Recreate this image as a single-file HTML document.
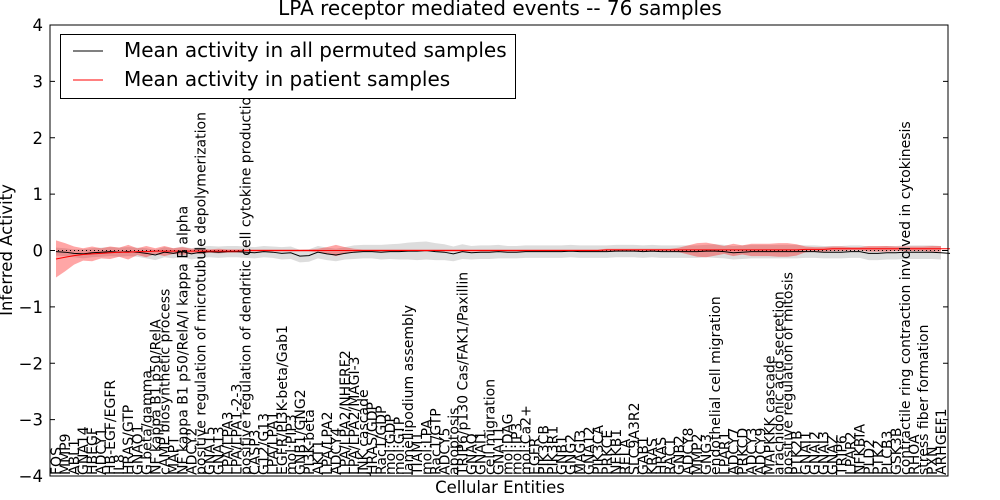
<!DOCTYPE html>
<html><head><meta charset="utf-8"><style>
body{margin:0;background:#fff;}
svg{display:block;font-family:"DejaVu Sans","Liberation Sans",sans-serif;}
</style></head><body>
<svg id="chart" width="1000" height="500">
<text x="500" y="15" text-anchor="middle" font-size="20">LPA receptor mediated events -- 76 samples</text>
<text transform="translate(12,250) rotate(-90)" text-anchor="middle" font-size="16.5">Inferred Activity</text>
<text x="500" y="493" text-anchor="middle" font-size="16.5">Cellular Entities</text>
<g id="bands"></g><g id="lines"></g><g id="xlabels"></g><g id="yaxis"></g>
<rect x="50" y="25" width="898" height="451" fill="none" stroke="#000" stroke-width="1"/>
<g>
<rect x="60.5" y="34.5" width="455" height="64" fill="#fff" stroke="#000"/>
<line x1="73" y1="51" x2="103" y2="51" stroke="#000"/>
<text x="124" y="57" font-size="20">Mean activity in all permuted samples</text>
<line x1="73" y1="80" x2="103" y2="80" stroke="#f00"/>
<text x="124" y="86" font-size="20">Mean activity in patient samples</text>
</g>
</svg>
<script>
const categories=["FOS","MMP9","ABL1","GNA14","HBEGF","ADCY1","HB-EGF/EGFR","IL8","HRAS/GTP","GNAO1","G beta/gamma","NF kappa B1 p50/RelA","cAMP biosynthetic process","MAPT","NF kappa B1 p50/RelA/I kappa B alpha","ADCY2","positive regulation of microtubule depolymerization","GNA15","GNA13","LPA/LPA3","LPA/LPA1-2-3","positive regulation of dendritic cell cytokine production","CASP3","G12/G13","LPA/LPA1","EGFR/PI3K-beta/Gab1","mol:PIP3","GNB1/GNG2","PI3K-beta","AKT1","LPA/LPA2","ADCY4","LPA/LPA2/NHERF2","LPA/LPA2/MAGI-3","JNK cascade","HRAS/GDP","Rac1/GDP","mol:GDP","mol:GTP","lamellipodium assembly","TIAM1","mol:LPA","Rac1/GTP","ADCY5","apoptosis","TRIP6/p130 Cas/FAK1/Paxillin","GNAQ","GNAI1","cell migration","GNA11","mol:DAG","mol:IP3","mol:Ca2+","EGFR","PIK3CB","PIK3R1","GNB1","GNG2","MAGI3","GNA12","PIK3CA","PRKCE","NFKB1","RELA","SLC9A3R2","GAB1","KRAS","HRAS","RAC1","GNB2","ADCY8","MMP2","GNG3","endothelial cell migration","LPAR1","ADCY7","PRKCD","ADCY3","ADCY9","MAPKKK cascade","arachidonic acid secretion","positive regulation of mitosis","PTK2B","GNAI1","GNAI2","GNAI3","GNAZ","TRIP6","LPAR2","NFKBIA","PLD2","PTK2","PLCB3","GSK3B","contractile ring contraction involved in cytokinesis","RHOA","stress fiber formation","PXN","ARHGEF1"];
const permutedMean=[-0.02,-0.03,-0.05,-0.06,-0.04,-0.03,-0.02,-0.03,-0.02,-0.03,-0.05,-0.08,-0.03,-0.05,-0.02,-0.06,-0.03,-0.02,-0.03,-0.02,-0.02,-0.03,-0.04,-0.02,-0.03,-0.05,-0.04,-0.10,-0.09,-0.03,-0.06,-0.08,-0.05,-0.03,-0.02,-0.02,-0.03,-0.02,-0.02,-0.01,-0.01,0.0,-0.02,-0.03,-0.06,-0.02,-0.04,-0.03,-0.03,-0.02,-0.03,-0.03,-0.02,-0.02,-0.02,-0.02,-0.02,-0.01,-0.02,-0.02,-0.02,-0.02,-0.01,-0.01,-0.01,-0.02,-0.01,-0.02,-0.02,-0.02,-0.02,-0.02,-0.01,-0.01,-0.02,-0.04,-0.03,-0.02,-0.02,-0.02,-0.02,-0.02,-0.02,-0.02,-0.02,-0.03,-0.03,-0.03,-0.02,-0.02,-0.05,-0.05,-0.04,-0.04,-0.03,-0.03,-0.03,-0.03,-0.04,-0.05];
const permutedSpread=[0.07,0.07,0.07,0.08,0.08,0.08,0.08,0.08,0.08,0.08,0.09,0.09,0.09,0.09,0.09,0.10,0.10,0.10,0.10,0.10,0.10,0.10,0.10,0.10,0.10,0.11,0.11,0.11,0.11,0.11,0.11,0.11,0.11,0.12,0.12,0.12,0.13,0.13,0.14,0.15,0.16,0.16,0.15,0.14,0.13,0.13,0.12,0.12,0.12,0.12,0.11,0.11,0.11,0.11,0.11,0.11,0.11,0.11,0.11,0.11,0.11,0.11,0.11,0.11,0.11,0.11,0.11,0.11,0.11,0.11,0.11,0.11,0.11,0.12,0.12,0.12,0.12,0.12,0.12,0.12,0.12,0.12,0.12,0.11,0.11,0.11,0.11,0.11,0.11,0.11,0.12,0.12,0.12,0.12,0.12,0.12,0.12,0.12,0.12,0.12];
const patientMean=[-0.15,-0.12,-0.09,-0.07,-0.06,-0.05,-0.04,-0.03,-0.03,-0.02,-0.02,-0.01,-0.01,-0.01,-0.01,-0.01,-0.01,-0.01,-0.01,-0.01,-0.01,0,0,0,0,0,0,0,0,0,0,0,0,0,0,0,0,0,0,0,0,0,0,0,0,0,0,0,0,0,0,0,0,0,0,0,0,0,0,0,0,0.01,0.01,0.01,0.01,0.01,0.01,0.01,0.01,0.01,0.01,0.01,0.01,0.01,0.01,0.01,0.01,0.01,0.01,0.01,0.01,0.01,0.01,0.02,0.02,0.02,0.03,0.03,0.03,0.03,0.03,0.03,0.03,0.03,0.03,0.03,0.03,0.03,0.03,0.03];
const patientSpread=[0.33,0.25,0.16,0.11,0.13,0.09,0.11,0.08,0.13,0.06,0.10,0.05,0.09,0.05,0.07,0.04,0.05,0.03,0.04,0.03,0.03,0.02,0.02,0.02,0.02,0.02,0.02,0.02,0.02,0.03,0.06,0.10,0.06,0.03,0.02,0.02,0.02,0.02,0.02,0.02,0.02,0.02,0.02,0.02,0.02,0.02,0.02,0.02,0.02,0.02,0.02,0.02,0.02,0.02,0.02,0.02,0.02,0.02,0.02,0.02,0.02,0.02,0.02,0.02,0.02,0.02,0.02,0.02,0.02,0.04,0.08,0.12,0.13,0.10,0.07,0.11,0.08,0.11,0.11,0.11,0.12,0.12,0.10,0.05,0.04,0.04,0.04,0.04,0.03,0.03,0.05,0.05,0.05,0.04,0.04,0.04,0.04,0.05,0.05,0.05];
const yTicks=[4,3,2,1,0,-1,-2,-3,-4];

const NS="http://www.w3.org/2000/svg";
const X0=50,X1=948,Y0=25,Y1=476;
const n=categories.length;
function xs(i){return 56+i*(941-56)/(n-1);}
function ys(v){return Y1-(v+4)/8*(Y1-Y0);}
function mk(tag,attrs,parent){const e=document.createElementNS(NS,tag);for(const k in attrs)e.setAttribute(k,attrs[k]);parent.appendChild(e);return e;}
const bands=document.getElementById('bands'),lines=document.getElementById('lines'),xl=document.getElementById('xlabels'),ya=document.getElementById('yaxis');
function band(mean,spread,fill,op,name){
  let up=[],dn=[];
  for(let i=0;i<n;i++){up.push(xs(i)+','+ys(mean[i]+spread[i]));dn.unshift(xs(i)+','+ys(mean[i]-spread[i]));}
  const p=mk('polygon',{points:up.concat(dn).join(' '),fill:fill,'fill-opacity':op},bands);
  
  
}
function line(mean,color,name){
  const pts=mean.map((v,i)=>xs(i)+','+ys(v)).join(' ');
  const p=mk('polyline',{points:pts,fill:'none',stroke:color,'stroke-width':1},lines);
  
  
}
band(permutedMean,permutedSpread,'#bbbbbb',0.5,'permuted-spread-band');
band(patientMean,patientSpread,'#ff0000',0.35,'patient-spread-band');
const z=mk('line',{x1:X0,x2:X1,y1:ys(0),y2:ys(0),stroke:'#000','stroke-dasharray':'1,3'},lines);


line(permutedMean,'#000','permuted-mean-line');
line(patientMean,'#ff0000','patient-mean-line');
categories.forEach((c,i)=>{
  const x=xs(i)+5;
  const t=mk('text',{transform:'translate('+x+','+(Y1-1)+') rotate(-90)','font-size':14},xl);
  t.textContent=c;
  
  
});
yTicks.forEach(v=>{
  const y=ys(v);
  const t=mk('text',{x:43,y:y+6,'text-anchor':'end','font-size':16.5},ya);
  t.textContent=v===0?'0':(v<0?'\u2212'+(-v):String(v));
  
  
  const a=mk('line',{x1:X0,x2:X0+5,y1:y,y2:y,stroke:'#000'},ya);
  
  
  const b=mk('line',{x1:X1-5,x2:X1,y1:y,y2:y,stroke:'#000'},ya);
  
  
});
</script>
</body></html>
